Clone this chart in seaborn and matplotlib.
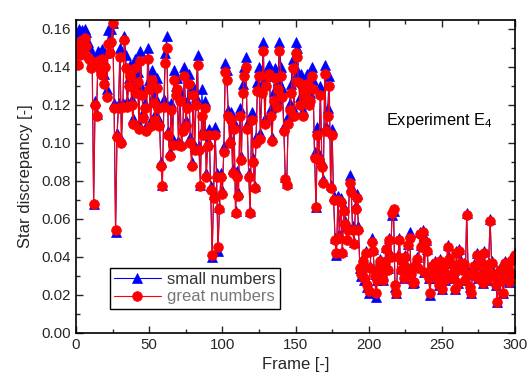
import numpy as np
import pandas as pd
import seaborn as sns
import matplotlib
matplotlib.use('Agg')
import matplotlib.pyplot as plt
from matplotlib.ticker import MultipleLocator

# frame index 0..300
frames = np.arange(0, 301)

# star discrepancy, "small numbers" (blue triangles)
small_numbers = [
    0.158, 0.150, 0.160, 0.155, 0.159, 0.157, 0.160, 0.158, 0.153, 0.151,
    0.146, 0.147, 0.068, 0.122, 0.115, 0.148, 0.147, 0.140, 0.149, 0.136,
    0.147, 0.128, 0.159, 0.155, 0.160, 0.163, 0.121, 0.053, 0.105, 0.121,
    0.150, 0.102, 0.121, 0.156, 0.146, 0.122, 0.134, 0.141, 0.123, 0.113,
    0.144, 0.130, 0.137, 0.110, 0.148, 0.129, 0.116, 0.121, 0.109, 0.150,
    0.133, 0.112, 0.138, 0.125, 0.115, 0.134, 0.121, 0.112, 0.090, 0.078,
    0.123, 0.147, 0.156, 0.106, 0.095, 0.121, 0.102, 0.138, 0.130, 0.134,
    0.101, 0.127, 0.100, 0.109, 0.140, 0.112, 0.122, 0.136, 0.103, 0.090,
    0.130, 0.098, 0.124, 0.146, 0.098, 0.078, 0.128, 0.107, 0.122, 0.084,
    0.101, 0.107, 0.077, 0.040, 0.073, 0.108, 0.084, 0.043, 0.066, 0.084,
    0.075, 0.098, 0.142, 0.138, 0.117, 0.102, 0.116, 0.086, 0.111, 0.064,
    0.085, 0.074, 0.118, 0.093, 0.131, 0.140, 0.145, 0.110, 0.084, 0.064,
    0.116, 0.092, 0.077, 0.103, 0.132, 0.140, 0.105, 0.131, 0.153, 0.113,
    0.135, 0.140, 0.141, 0.118, 0.103, 0.127, 0.139, 0.123, 0.133, 0.153,
    0.140, 0.129, 0.109, 0.082, 0.079, 0.114, 0.121, 0.131, 0.144, 0.117,
    0.153, 0.150, 0.137, 0.124, 0.136, 0.117, 0.132, 0.129, 0.136, 0.124,
    0.126, 0.140, 0.133, 0.095, 0.066, 0.108, 0.094, 0.130, 0.090, 0.081,
    0.141, 0.109, 0.118, 0.135, 0.078, 0.107, 0.072, 0.050, 0.041, 0.072,
    0.052, 0.071, 0.043, 0.066, 0.059, 0.050, 0.056, 0.083, 0.077, 0.056,
    0.048, 0.067, 0.073, 0.056, 0.034, 0.030, 0.039, 0.028, 0.043, 0.024,
    0.021, 0.035, 0.050, 0.044, 0.031, 0.019, 0.028, 0.035, 0.039, 0.032,
    0.028, 0.038, 0.045, 0.034, 0.050, 0.041, 0.062, 0.064, 0.024, 0.021,
    0.041, 0.050, 0.034, 0.039, 0.029, 0.041, 0.035, 0.047, 0.053, 0.031,
    0.026, 0.027, 0.036, 0.040, 0.035, 0.053, 0.046, 0.054, 0.032, 0.049,
    0.044, 0.029, 0.020, 0.036, 0.031, 0.038, 0.029, 0.034, 0.025, 0.039,
    0.023, 0.036, 0.028, 0.032, 0.046, 0.040, 0.037, 0.029, 0.033, 0.023,
    0.043, 0.026, 0.044, 0.038, 0.034, 0.037, 0.028, 0.063, 0.032, 0.024,
    0.021, 0.032, 0.036, 0.031, 0.042, 0.029, 0.038, 0.031, 0.026, 0.043,
    0.034, 0.028, 0.037, 0.060, 0.038, 0.032, 0.031, 0.025, 0.016, 0.030,
    0.034, 0.028, 0.021, 0.038, 0.031, 0.035, 0.027, 0.039, 0.032, 0.041,
    0.042,
]

# star discrepancy, "great numbers" (red circles)
great_numbers = [
    0.152, 0.141, 0.150, 0.146, 0.154, 0.148, 0.155, 0.151, 0.145, 0.144,
    0.139, 0.141, 0.068, 0.120, 0.114, 0.143, 0.140, 0.136, 0.144, 0.131,
    0.140, 0.124, 0.152, 0.147, 0.153, 0.163, 0.118, 0.054, 0.103, 0.118,
    0.145, 0.100, 0.119, 0.154, 0.139, 0.119, 0.130, 0.135, 0.120, 0.110,
    0.139, 0.126, 0.132, 0.107, 0.143, 0.125, 0.113, 0.118, 0.106, 0.144,
    0.128, 0.109, 0.133, 0.121, 0.112, 0.129, 0.118, 0.109, 0.088, 0.077,
    0.119, 0.142, 0.150, 0.104, 0.093, 0.117, 0.099, 0.133, 0.125, 0.128,
    0.099, 0.122, 0.098, 0.106, 0.135, 0.109, 0.118, 0.131, 0.100, 0.088,
    0.125, 0.096, 0.120, 0.141, 0.096, 0.077, 0.114, 0.104, 0.118, 0.082,
    0.098, 0.104, 0.075, 0.041, 0.071, 0.104, 0.082, 0.045, 0.065, 0.082,
    0.073, 0.095, 0.137, 0.133, 0.114, 0.100, 0.112, 0.084, 0.107, 0.063,
    0.082, 0.072, 0.114, 0.091, 0.126, 0.135, 0.140, 0.107, 0.082, 0.063,
    0.112, 0.090, 0.076, 0.100, 0.127, 0.135, 0.102, 0.126, 0.148, 0.110,
    0.130, 0.135, 0.136, 0.114, 0.101, 0.122, 0.134, 0.119, 0.128, 0.148,
    0.135, 0.124, 0.106, 0.081, 0.078, 0.110, 0.117, 0.126, 0.139, 0.114,
    0.147, 0.145, 0.132, 0.120, 0.131, 0.114, 0.127, 0.124, 0.131, 0.120,
    0.122, 0.135, 0.128, 0.092, 0.066, 0.104, 0.091, 0.125, 0.087, 0.079,
    0.136, 0.106, 0.114, 0.130, 0.076, 0.104, 0.070, 0.049, 0.042, 0.070,
    0.050, 0.069, 0.042, 0.064, 0.057, 0.049, 0.054, 0.079, 0.074, 0.054,
    0.047, 0.065, 0.071, 0.054, 0.034, 0.031, 0.038, 0.029, 0.042, 0.025,
    0.022, 0.034, 0.048, 0.043, 0.030, 0.021, 0.028, 0.034, 0.038, 0.031,
    0.028, 0.037, 0.044, 0.033, 0.049, 0.040, 0.063, 0.065, 0.025, 0.021,
    0.040, 0.049, 0.033, 0.038, 0.029, 0.040, 0.034, 0.046, 0.050, 0.031,
    0.026, 0.027, 0.035, 0.039, 0.034, 0.052, 0.045, 0.053, 0.032, 0.048,
    0.043, 0.029, 0.021, 0.035, 0.031, 0.037, 0.029, 0.033, 0.025, 0.038,
    0.023, 0.035, 0.028, 0.031, 0.045, 0.039, 0.036, 0.029, 0.032, 0.023,
    0.042, 0.026, 0.043, 0.037, 0.033, 0.036, 0.028, 0.062, 0.031, 0.024,
    0.021, 0.031, 0.035, 0.030, 0.041, 0.029, 0.037, 0.030, 0.026, 0.042,
    0.033, 0.028, 0.036, 0.059, 0.037, 0.031, 0.030, 0.025, 0.016, 0.029,
    0.033, 0.028, 0.021, 0.037, 0.030, 0.034, 0.027, 0.038, 0.031, 0.040,
    0.041,
]

df = pd.DataFrame({'frame': frames, 'small': small_numbers, 'great': great_numbers})

sns.set_style('ticks')
plt.rcParams['font.family'] = ['Liberation Sans', 'DejaVu Sans']
plt.rcParams['mathtext.fontset'] = 'custom'
plt.rcParams['mathtext.rm'] = 'Liberation Sans'

fig = plt.figure(figsize=(5.32, 3.84), dpi=100)
ax = fig.add_axes([0.143, 0.133, 0.825, 0.815])

sns.lineplot(data=df, x='frame', y='small', ax=ax, color='#0000FF', lw=0.8,
             marker='^', markersize=7, markeredgecolor='#0000FF',
             markeredgewidth=0.5, label='small numbers')
sns.lineplot(data=df, x='frame', y='great', ax=ax, color='#FF0000', lw=0.8,
             marker='o', markersize=7, markeredgecolor='#FF0000',
             markeredgewidth=0.5, label='great numbers')

ax.set_xlim(0, 300)
ax.set_ylim(0, 0.1645)
ax.xaxis.set_major_locator(MultipleLocator(50))
ax.xaxis.set_minor_locator(MultipleLocator(25))
ax.yaxis.set_major_locator(MultipleLocator(0.02))
ax.yaxis.set_minor_locator(MultipleLocator(0.01))
ax.yaxis.set_major_formatter(matplotlib.ticker.FormatStrFormatter('%.2f'))
ax.tick_params(which='both', direction='in', top=True, right=True, width=1, labelsize=10.8)
ax.tick_params(which='major', length=5)
ax.tick_params(which='minor', length=3)
for s in ax.spines.values():
    s.set_linewidth(1.2)
    s.set_color('black')

ax.set_xlabel('Frame [-]', fontsize=12)
ax.set_ylabel('Star discrepancy [-]', fontsize=12, labelpad=6)

ax.text(0.705, 0.665, r'Experiment $\mathregular{E_4}$', transform=ax.transAxes,
        fontsize=11.8, color='black')

leg = ax.legend(loc='upper left', bbox_to_anchor=(0.077, 0.208), borderaxespad=0,
                fancybox=False, framealpha=1, edgecolor='black', fontsize=12,
                handlelength=2.8, labelspacing=0.15, borderpad=0.25, handletextpad=0.4)
leg.get_frame().set_linewidth(1.0)
leg.get_texts()[0].set_color('#333333')
leg.get_texts()[1].set_color('#777777')

fig.savefig('out.png', dpi=100)
